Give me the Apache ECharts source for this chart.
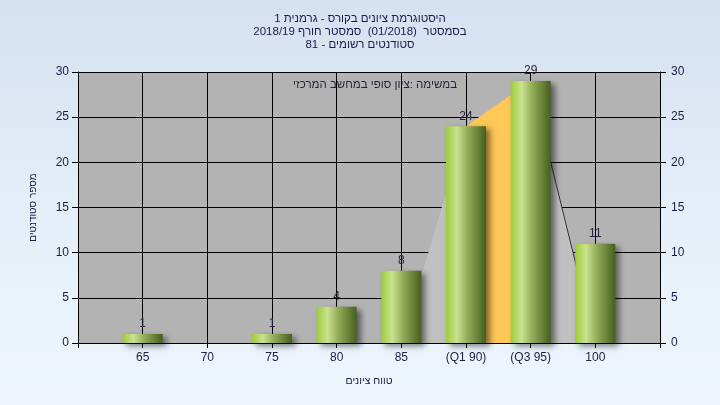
<!DOCTYPE html>
<html>
<head>
<meta charset="utf-8">
<script src="https://cdn.jsdelivr.net/npm/echarts@6/dist/echarts.min.js"></script>
<style>
html,body{margin:0;padding:0;}
body{width:720px;height:405px;background:linear-gradient(to bottom,#d5e1f1 0%,#e6eff9 55%,#eef5fd 100%);}
#c{width:720px;height:405px;}
</style>
</head>
<body>
<div id="c"></div>
<script>
// ---- data ----
var grades = [65, 70, 75, 80, 85, 90, 95, 100];
var counts = [1, 0, 1, 4, 8, 24, 29, 11];
var gradeLabels = {65:'65', 70:'70', 75:'75', 80:'80', 85:'85', 90:'(Q1 90)', 95:'(Q3 95)', 100:'100'};
var yTicks = [0, 5, 10, 15, 20, 25, 30];
var titleLines = ['היסטוגרמת ציונים בקורס - גרמנית 1', 'בסמסטר  (01/2018)  סמסטר חורף 2018/19', 'סטודנטים רשומים - 81'];
var noteText = 'במשימה :ציון סופי במחשב המרכזי';
var yName = 'מספר סטודנטים';
var xName = 'טווח ציונים';
// distribution shape (grade, count)
var shapeLeft = [[85, 0], [90, 24]];
var shapeMid = [[90, 24], [95, 29]];
var shapeRight = [[95, 29], [100, 0]];

function rtl(s){ return '\u202B' + s + '\u202C'; }

var barData = grades.map(function(g, i){ return [g, counts[i]]; });
var txtColor = '#1e1b45';

var chart = echarts.init(document.getElementById('c'), null, {renderer:'canvas'});
var barGrad = new echarts.graphic.LinearGradient(0, 0, 1, 0, [
  {offset:0, color:'#9fcb3a'},
  {offset:0.27, color:'#c9e28f'},
  {offset:0.55, color:'#90aa58'},
  {offset:1, color:'#46601e'}
]);
chart.setOption({
  backgroundColor: 'transparent',
  animation: false,
  title: {
    text: titleLines.map(rtl).join('\n'),
    left: 'center', top: 7,
    textStyle: {fontFamily:'Liberation Sans', fontSize:11.5, fontWeight:'normal', lineHeight:13, color: txtColor}
  },
  graphic: [{
    type:'text', left: 293, top: 79,
    style: {text: rtl(noteText), font:'11.5px "Liberation Sans"', fill:'#2a1f3a'}
  }],
  grid: {left:78, right:60, top:72, bottom:62, show:true, backgroundColor:'#b3b3b3', borderWidth:0},
  xAxis: {
    type:'value', min:60, max:105, interval:5,
    name: rtl(xName), nameLocation:'middle', nameGap:33,
    nameTextStyle: {fontFamily:'Liberation Sans', fontSize:10.5, color: txtColor},
    axisLine: {show:true, lineStyle:{color:'#000', width:1}},
    axisTick: {show:true, length:5, lineStyle:{color:'#000'}},
    axisLabel: {margin:9, fontFamily:'Liberation Sans', fontSize:12, color: txtColor,
      formatter: function(v){ return gradeLabels[v] || ''; }},
    splitLine: {show:true, lineStyle:{color:'#000', width:1}}
  },
  yAxis: [{
    type:'value', min:0, max:30, interval:5, position:'left',
    name: rtl(yName), nameLocation:'middle', nameGap:40, nameRotate:90,
    nameTextStyle: {fontFamily:'Liberation Sans', fontSize:10, color: txtColor},
    axisLine: {show:true, lineStyle:{color:'#000', width:1}},
    axisTick: {show:true, length:6, lineStyle:{color:'#000'}},
    axisLabel: {margin:9, fontFamily:'Liberation Sans', fontSize:12, color: txtColor,
      formatter: function(v){ return yTicks.indexOf(v) >= 0 ? String(v) : ''; }},
    splitLine: {show:true, lineStyle:{color:'#000', width:1}}
  },{
    type:'value', min:0, max:30, interval:5, position:'right',
    axisLine: {show:true, lineStyle:{color:'#000', width:1}},
    axisTick: {show:true, length:6, lineStyle:{color:'#000'}},
    axisLabel: {margin:11, fontFamily:'Liberation Sans', fontSize:12, color: txtColor},
    splitLine: {show:false}
  }],
  series: [
    {type:'line', data: shapeLeft, symbol:'none', lineStyle:{width:0, opacity:0}, areaStyle:{color:'#c0c0c0', opacity:1}, z:2},
    {type:'line', data: shapeMid, symbol:'none', lineStyle:{width:0, opacity:0}, areaStyle:{color:'#ffc857', opacity:1}, z:2},
    {type:'line', data: shapeRight, symbol:'none', lineStyle:{width:1, color:'#333'}, areaStyle:{color:'#c0c0c0', opacity:1}, z:2},
    {type:'bar', data: barData, barWidth:40, z:3,
      itemStyle:{color: barGrad, shadowColor:'rgba(0,0,0,0.5)', shadowBlur:6, shadowOffsetX:4, shadowOffsetY:3},
      label:{show:true, position:'top', distance:4, fontFamily:'Liberation Sans', fontSize:12, color:'#2b2340',
        formatter: function(p){ return p.value[1] ? String(p.value[1]) : ''; }}
    }
  ]
});
</script>
</body>
</html>
